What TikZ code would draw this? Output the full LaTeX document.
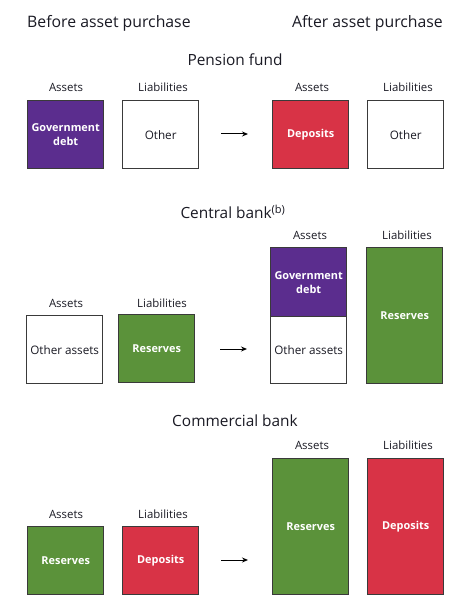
\documentclass[tikz,border=0pt]{standalone}
\usepackage{fontspec}
\setmainfont{Open Sans}
\usetikzlibrary{arrows.meta}
\definecolor{purp}{HTML}{5B2D8E}
\definecolor{redd}{HTML}{D83346}
\definecolor{grn}{HTML}{5B923A}
\definecolor{edge}{HTML}{3A3A3A}
\definecolor{txt}{HTML}{1A1A24}
\begin{document}
\begin{tikzpicture}[x=1pt,y=-1pt,
  box/.style={draw=edge, line width=1.4pt, anchor=north west, inner sep=0pt, align=center,
    font=\fontsize{11.7}{14}\selectfont, minimum width=76pt, text=txt},
  fillbox/.style={box, text=white, font=\fontsize{10.9}{14}\selectfont\bfseries},
  lab/.style={font=\fontsize{11.4}{13}\selectfont, inner sep=0pt, text=txt},
  head/.style={font=\fontsize{15.8}{18}\selectfont, inner sep=0pt, text=txt},
  title/.style={font=\fontsize{15.4}{18}\selectfont, inner sep=0pt, text=txt},
  arr/.style={-{Stealth[length=6pt,width=5pt]}, line width=1pt, black}]
\useasboundingbox (0,0) rectangle (474,612);
\fill[white] (0,0) rectangle (474,612);
% headings
\node[head, anchor=west] (hb) at (27,23) {Before asset purchase};
\node[head, anchor=east] (ha) at (443,23) {After asset purchase};
% Pension fund
\node[title] (t1) at (235,60) {Pension fund};
\node[lab] (l1a) at (66,87) {Assets};
\node[lab] (l1b) at (163,87) {Liabilities};
\node[lab] (l1c) at (312,87) {Assets};
\node[lab] (l1d) at (408,87) {Liabilities};
\node[fillbox, fill=purp, minimum height=68pt] (p1) at (27,100) {Government\\debt};
\node[box, fill=white, minimum height=68pt] (p2) at (122,100) {Other};
\node[fillbox, fill=redd, minimum height=68pt] (p3) at (272,100) {Deposits};
\node[box, fill=white, minimum height=68pt] (p4) at (367,100) {Other};
\coordinate (a1s) at (221,134);
\coordinate (a1e) at (248,134);
\draw[arr] (a1s) -- (a1e);
% Central bank
\node[title] (t2) at (233,212) {Central bank\textsuperscript{\fontsize{11}{12}\selectfont(b)}};
\node[lab] (l2a) at (66,303) {Assets};
\node[lab] (l2b) at (162,303) {Liabilities};
\node[lab] (l2c) at (310,235) {Assets};
\node[lab] (l2d) at (407,235) {Liabilities};
\node[box, fill=white, minimum height=68pt] (c1) at (26,315) {Other assets};
\node[fillbox, fill=grn, minimum height=68pt] (c2) at (118,314) {Reserves};
\node[fillbox, fill=purp, minimum height=69pt] (c3) at (270,247) {Government\\debt};
\node[box, fill=white, minimum height=67pt] (c4) at (270,316) {Other assets};
\node[fillbox, fill=grn, minimum height=136pt] (c5) at (366,247) {Reserves};
\coordinate (a2s) at (220,349);
\coordinate (a2e) at (247,349);
\draw[arr] (a2s) -- (a2e);
% Commercial bank
\node[title] (t3) at (235,421) {Commercial bank};
\node[lab] (l3a) at (66,514) {Assets};
\node[lab] (l3b) at (163,514) {Liabilities};
\node[lab] (l3c) at (312,445) {Assets};
\node[lab] (l3d) at (408,445) {Liabilities};
\node[fillbox, fill=grn, minimum height=68pt] (m1) at (27,526) {Reserves};
\node[fillbox, fill=redd, minimum height=68pt] (m2) at (122,526) {Deposits};
\node[fillbox, fill=grn, minimum height=136pt] (m3) at (272,458) {Reserves};
\node[fillbox, fill=redd, minimum height=136pt] (m4) at (367,458) {Deposits};
\coordinate (a3s) at (221,560);
\coordinate (a3e) at (248,560);
\draw[arr] (a3s) -- (a3e);
\end{tikzpicture}
\end{document}
